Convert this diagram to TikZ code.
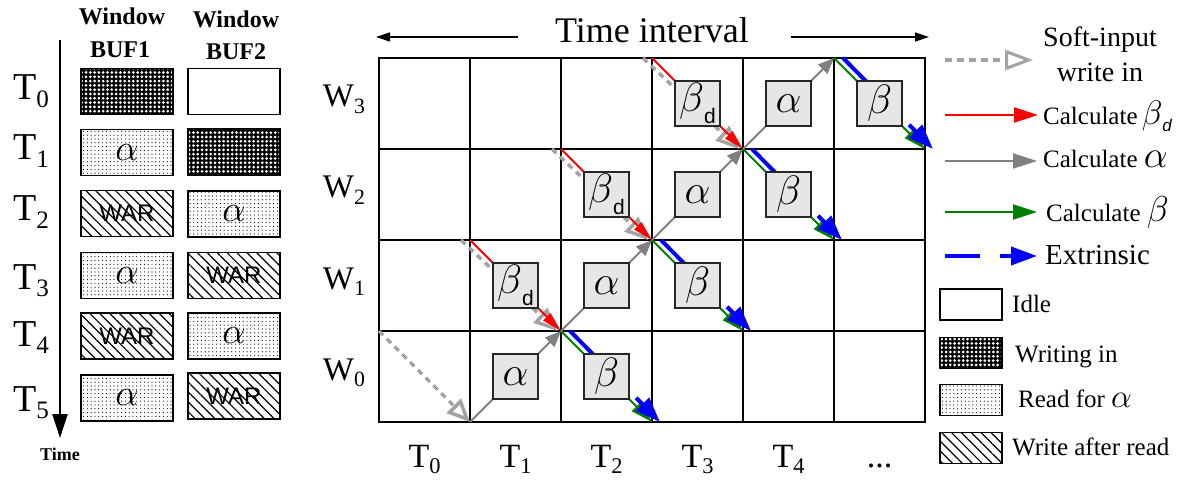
\RequirePackage{fix-cm}
\documentclass[tikz,border=0pt]{standalone}
\usepackage{fontspec}
\setmainfont{Liberation Serif}
\newfontfamily\sansf{Liberation Sans}
\usetikzlibrary{arrows.meta,patterns.meta}
\newcommand\fsz[1]{\fontsize{#1pt}{#1pt}\selectfont}
\newcommand\lsub[1]{\raisebox{-0.2em}{\scalebox{0.66}{#1}}}
\newcommand\al{$\alpha$}
\newcommand\be{$\beta$}
\newcommand\bd{$\beta$\raisebox{-0.28em}{\upshape\sansf\fsz{21}d}}
\definecolor{agray}{HTML}{808080}
\definecolor{sgray}{HTML}{A3A3A3}
\definecolor{boxgray}{HTML}{E6E6E6}
\definecolor{dgreen}{HTML}{008000}
\tikzset{
  lab/.style={inner sep=0pt, anchor=base},
  labw/.style={inner sep=0pt, anchor=base west},
  cell/.style={draw=black!85, line width=1.4pt, fill=boxgray, minimum width=45pt, minimum height=45pt, inner sep=0pt, font=\fsz{41}},
  gridline/.style={line width=2.5pt, line cap=rect},
  softin/.style={sgray, line width=3.5pt, dash pattern=on 6pt off 5pt, -{Triangle[open, length=23pt, width=20pt, line width=3.5pt]}},
  redarr/.style={red, line width=2pt, -{Triangle[length=20pt, width=10pt]}},
  alpharr/.style={agray, line width=2pt, -{Triangle[length=16pt, width=13pt]}},
  greenarr/.style={dgreen, line width=2pt, -{Triangle[length=22pt, width=13pt]}},
  bluearr/.style={blue, line width=4pt, dash pattern=on 35pt off 12pt, -{Triangle[length=25pt, width=18pt]}},
  buf/.style={draw=black, line width=1.2pt, minimum width=92pt, minimum height=46pt, inner sep=0pt},
  lbox/.style={minimum width=62pt, minimum height=31pt},
  idle/.style={buf},
  writing/.style={buf, preaction={fill=black}, pattern={Dots[radius=1.5pt,distance=4.3pt]}, pattern color=white},
  reada/.style={buf, pattern={Dots[radius=0.6pt,distance=3.8pt]}, pattern color=black, font=\fsz{37}},
  war/.style={buf, pattern={Lines[angle=-45,distance=7pt,line width=1.2pt]}, pattern color=black, font=\sansf\fsz{24}},
  tiarr/.style={line width=1.4pt, -{Triangle[length=14pt, width=9pt]}},
}
\begin{document}
\begin{tikzpicture}[x=1pt,y=-1pt]
\useasboundingbox (0,0) rectangle (1181,481);

% ---------- left panel ----------
\node[lab, font=\bfseries\fsz{24}] (h1a) at (122,25) {Window};
\node[lab, font=\bfseries\fsz{24}] (h1b) at (120,58) {BUF1};
\node[lab, font=\bfseries\fsz{24}] (h2a) at (236,28) {Window};
\node[lab, font=\bfseries\fsz{24}] (h2b) at (236,60) {BUF2};

\coordinate (ax0) at (60,40);
\coordinate (ax1) at (60,438);
\draw[line width=2.5pt, -{Triangle[length=24pt,width=15pt]}] (ax0) -- (ax1);
\node[lab, font=\bfseries\fsz{18}] (timelab) at (60,460) {Time};

\node[lab, font=\fsz{38}] (lt0) at (31,100) {T\lsub{0}};
\node[lab, font=\fsz{38}] (lt1) at (31,160) {T\lsub{1}};
\node[lab, font=\fsz{38}] (lt2) at (31,221) {T\lsub{2}};
\node[lab, font=\fsz{38}] (lt3) at (31,289) {T\lsub{3}};
\node[lab, font=\fsz{38}] (lt4) at (31,346) {T\lsub{4}};
\node[lab, font=\fsz{38}] (lt5) at (31,411) {T\lsub{5}};

\node[writing] (b1t0) at (127,91.5) {};
\node[idle]    (b2t0) at (234,91.5) {};
\node[reada]   (b1t1) at (127,152.5) {\al};
\node[writing] (b2t1) at (234,152) {};
\node[war]     (b1t2) at (127,213.5) {WAR};
\node[reada]   (b2t2) at (234,214) {\al};
\node[reada]   (b1t3) at (127,275.5) {\al};
\node[war]     (b2t3) at (234,275.5) {WAR};
\node[war]     (b1t4) at (127,336) {WAR};
\node[reada]   (b2t4) at (234,336) {\al};
\node[reada]   (b1t5) at (127,398) {\al};
\node[war]     (b2t5) at (234,396) {WAR};

% ---------- time interval ----------
\node[lab, font=\fsz{36}] (ti) at (652,43) {Time interval};
\coordinate (tia) at (518,37);
\coordinate (til) at (376,37);
\coordinate (tib) at (791,37);
\coordinate (tir) at (929,37);
\draw[tiarr] (tia) -- (til);
\draw[tiarr] (tib) -- (tir);

% ---------- grid ----------
\foreach \c in {0,...,6}{\foreach \r in {0,...,4}{
  \coordinate (g\c\r) at ({379+91*\c},{422-91*\r});}}
\foreach \c in {0,...,6}{\draw[gridline] (g\c0) -- (g\c4);}
\foreach \r in {0,...,4}{\draw[gridline] (g0\r) -- (g6\r);}

% W0
\draw[softin] (g01) -- (g10);
\draw[alpharr] (g10) -- (g21);
\draw[greenarr] (g21) -- (g30);
\draw[bluearr] ([xshift=9pt]g21) -- ([xshift=8pt]g30);
% W1
\draw[softin] ([xshift=-9pt]g12) -- ([xshift=-4pt]g21);
\draw[redarr] (g12) -- (g21);
\draw[alpharr] (g21) -- (g32);
\draw[greenarr] (g32) -- (g41);
\draw[bluearr] ([xshift=9pt]g32) -- ([xshift=8pt]g41);
% W2
\draw[softin] ([xshift=-9pt]g23) -- ([xshift=-4pt]g32);
\draw[redarr] (g23) -- (g32);
\draw[alpharr] (g32) -- (g43);
\draw[greenarr] (g43) -- (g52);
\draw[bluearr] ([xshift=9pt]g43) -- ([xshift=8pt]g52);
% W3
\draw[softin] ([xshift=-9pt]g34) -- ([xshift=-4pt]g43);
\draw[redarr] (g34) -- (g43);
\draw[alpharr] (g43) -- (g54);
\draw[greenarr] (g54) -- (g63);
\draw[bluearr] ([xshift=9pt]g54) -- ([xshift=8pt]g63);

\node[cell] (w0a) at (515.5,376.5) {\al};
\node[cell] (w0b) at (606.5,376.5) {\be};
\node[cell] (w1d) at (515.5,285.5) {\bd};
\node[cell] (w1a) at (606.5,285.5) {\al};
\node[cell] (w1b) at (697.5,285.5) {\be};
\node[cell] (w2d) at (606.5,194.5) {\bd};
\node[cell] (w2a) at (697.5,194.5) {\al};
\node[cell] (w2b) at (788.5,194.5) {\be};
\node[cell] (w3d) at (697.5,103.5) {\bd};
\node[cell] (w3a) at (788.5,103.5) {\al};
\node[cell] (w3b) at (879.5,103.5) {\be};

\node[lab, font=\fsz{33}] (rw3) at (344,107) {W\lsub{3}};
\node[lab, font=\fsz{33}] (rw2) at (344,198) {W\lsub{2}};
\node[lab, font=\fsz{33}] (rw1) at (344,289) {W\lsub{1}};
\node[lab, font=\fsz{33}] (rw0) at (344,380) {W\lsub{0}};

\node[lab, font=\fsz{34}] (bt0) at (424.5,467) {T\lsub{0}};
\node[lab, font=\fsz{34}] (bt1) at (515.5,467) {T\lsub{1}};
\node[lab, font=\fsz{34}] (bt2) at (606.5,467) {T\lsub{2}};
\node[lab, font=\fsz{34}] (bt3) at (697.5,467) {T\lsub{3}};
\node[lab, font=\fsz{34}] (bt4) at (788.5,467) {T\lsub{4}};
\node[lab, font=\fsz{34}] (bt5) at (879.5,467) {...};

% ---------- legend ----------
\coordinate (ls0) at (945,60);  \coordinate (ls1) at (1033,60);
\draw[sgray, line width=3.5pt, dash pattern=on 7pt off 5pt, -{Triangle[open, length=28pt, width=20pt, line width=3pt]}] (ls0) -- (ls1);
\node[lab, font=\fsz{28}] (lsoft1) at (1100,47) {Soft-input};
\node[lab, font=\fsz{28}] (lsoft2) at (1100,82) {write in};

\coordinate (lr0) at (945,115); \coordinate (lr1) at (1038,115);
\draw[red, line width=2pt, -{Triangle[length=24pt, width=15pt]}] (lr0) -- (lr1);
\node[labw, font=\fsz{25}] (lred) at (1043,125) {Calculate\,{\fsz{34}$\beta$}\raisebox{-0.28em}{\sansf\itshape\fsz{17}d}};

\coordinate (lg0) at (945,161); \coordinate (lg1) at (1037,161);
\draw[agray, line width=2pt, -{Triangle[length=24pt, width=15pt]}] (lg0) -- (lg1);
\node[labw, font=\fsz{25}] (lgray) at (1043,168) {Calculate {\fsz{38}$\alpha$}};

\coordinate (lgr0) at (945,212); \coordinate (lgr1) at (1037,212);
\draw[dgreen, line width=2pt, -{Triangle[length=24pt, width=15pt]}] (lgr0) -- (lgr1);
\node[labw, font=\fsz{25}] (lgreen) at (1046,222) {Calculate {\fsz{36}$\beta$}};

\coordinate (lb0) at (945,256); \coordinate (lb1) at (1037,256);
\draw[blue, line width=4pt, dash pattern=on 35pt off 20pt, -{Triangle[length=26pt, width=18pt]}] (lb0) -- (lb1);
\node[labw, font=\fsz{29}] (lblue) at (1045,265) {Extrinsic};

\node[idle, lbox] (kidle) at (971,304.5) {};
\node[labw, font=\fsz{25}] (tidle) at (1012,312) {Idle};
\node[writing, lbox] (kwrite) at (971,353) {};
\node[labw, font=\fsz{25}] (twrite) at (1015,362) {Writing in};
\node[reada, lbox] (kread) at (971,400) {};
\node[labw, font=\fsz{25}] (tread) at (1018,407) {Read for {\fsz{33}$\alpha$}};
\node[war, lbox] (kwar) at (971,448) {};
\node[labw, font=\fsz{25}] (twar) at (1012,455) {Write after read};
\end{tikzpicture}
\end{document}
